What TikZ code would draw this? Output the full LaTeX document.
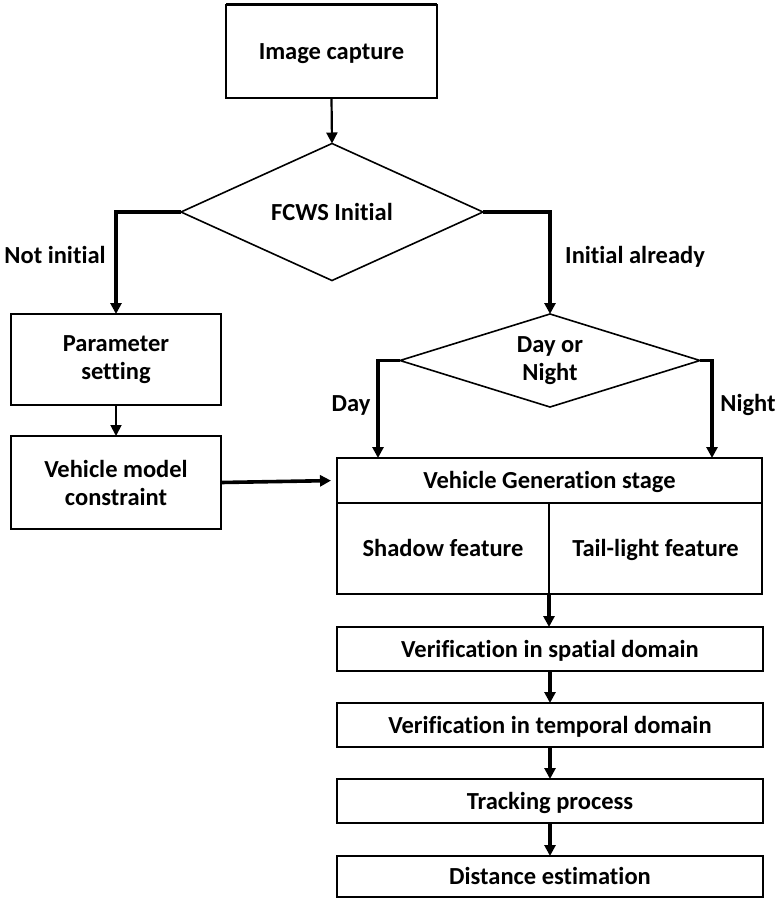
\documentclass[tikz,border=0pt]{standalone}
\usepackage{fontspec}
\setmainfont{Carlito}[RawFeature=-liga]
\usetikzlibrary{arrows.meta,shapes.geometric,calc}

\begin{document}
\begin{tikzpicture}[x=1pt,y=-1pt,
  every node/.style={font=\fontsize{24.5}{28}\selectfont\bfseries, inner sep=0pt, outer sep=0pt},
  box/.style={draw, line width=1.6pt, rectangle, align=center},
  decision/.style={draw, line width=1.6pt, diamond, align=center},
  oneline/.style={text height=19pt, text depth=3pt},
  flow/.style={line width=3.2pt, -{Triangle[length=11pt,width=11pt]}},
  thinflow/.style={line width=2.2pt, -{Triangle[length=11pt,width=11pt]}},
  lbl/.style={align=center, oneline}]

\useasboundingbox (0,0) rectangle (777,899);

% left column and top
\node[box, oneline, minimum width=211pt, minimum height=93pt] (cap) at (331.5,51.5) {Image capture};
\node[decision, oneline, shape aspect=2.2, minimum width=302pt, minimum height=137pt] (fcws) at (332,212) {FCWS Initial};
\node[box, minimum width=210pt, minimum height=91pt] (param) at (116,359.5) {Parameter\\setting};
\node[box, minimum width=210pt, minimum height=93pt] (vmc) at (116,482.5) {Vehicle model\\constraint};

% right column
\node[decision, shape aspect=3.2, minimum width=300pt, minimum height=93pt] (dn) at (550,360.5) {Day or\\Night};
\node[box, oneline, minimum width=425pt, minimum height=45pt] (genhead) at (549.5,480.5) {Vehicle Generation stage};
\node[box, oneline, minimum width=212pt, minimum height=91pt] (shadow) at (443,548.5) {Shadow feature};
\node[box, oneline, minimum width=213pt, minimum height=91pt] (tail) at (655.5,548.5) {Tail-light feature};
\node[box, oneline, minimum width=426pt, minimum height=44pt] (spatial) at (550,649) {Verification in spatial domain};
\node[box, oneline, minimum width=426pt, minimum height=44pt] (temporal) at (550,725) {Verification in temporal domain};
\node[box, oneline, minimum width=426pt, minimum height=44pt] (track) at (550,801) {Tracking process};
\node[box, oneline, minimum width=426pt, minimum height=41pt] (dist) at (550,876.5) {Distance estimation};

% heavier top edge of the capture box
\draw[line width=3pt] (cap.north west) -- (cap.north east);

% branch labels
\node[lbl] (lnot) at (55,255) {Not initial};
\node[lbl] (lalready) at (635,255) {Initial already};
\node[lbl] (lday) at (351,403) {Day};
\node[lbl] (lnight) at (748,403) {Night};

% entry points of the day / night branches
\coordinate (dayin) at (378,458);
\coordinate (nightin) at (712,458);

% connectors
\draw[thinflow] (cap.south) -- (fcws.north);
\draw[flow] (fcws.west) -| (param.north);
\draw[flow] (fcws.east) -| (dn.north);
\draw[thinflow, line width=1.8pt] (param.south) -- (vmc.north);
\draw[flow, line width=3.6pt, shorten >=6pt] (vmc.east) -- (genhead.west);
\draw[flow] (dn.west) -| (dayin);
\draw[flow] (dn.east) -| (nightin);
\draw[flow] (shadow.south east) -- (shadow.south east |- spatial.north);
\draw[flow] (spatial.south) -- (temporal.north);
\draw[flow] (temporal.south) -- (track.north);
\draw[flow] (track.south) -- (dist.north);

\end{tikzpicture}
\end{document}
